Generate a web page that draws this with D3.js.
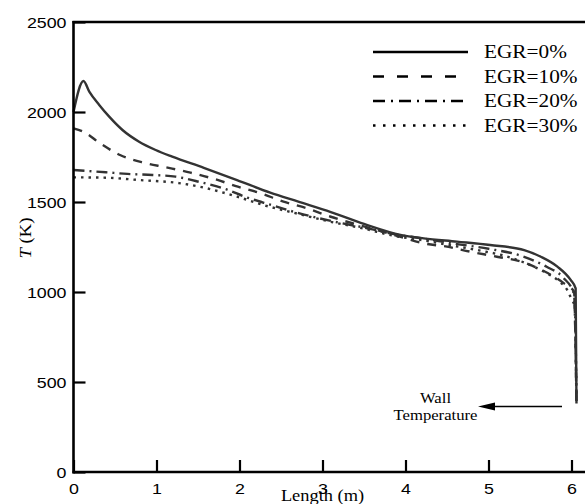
<!DOCTYPE html>
<html><head><meta charset="utf-8">
<script src="https://cdn.jsdelivr.net/npm/d3@7"></script>
<style>html,body{margin:0;padding:0;background:#fff;}svg{display:block;}</style>
</head><body>
<svg id="chart" width="585" height="504"></svg>
<script>
// ---- data ----
const seriesNames = ["EGR=0%", "EGR=10%", "EGR=20%", "EGR=30%"];
const lenEGR0  = [0, 0.12, 0.19, 0.31, 0.43, 0.59, 0.79, 0.99, 1.19, 1.57, 1.97, 2.37, 2.70, 3.10, 3.5, 3.94, 4.22, 4.62, 5.02, 5.43, 5.63, 5.83, 5.99, 6.05, 6.06];
const tEGR0    = [2000, 2172, 2113, 2039, 1974, 1900, 1835, 1789, 1752, 1690, 1622, 1552, 1503, 1444, 1378, 1317, 1298, 1280, 1261, 1233, 1196, 1141, 1067, 1020, 380];
const lenEGR10 = [0, 0.12, 0.32, 0.56, 0.85, 1.11, 1.41, 1.71, 1.98, 2.26, 2.53, 2.81, 3.10, 3.66, 3.94, 4.22, 4.5, 4.78, 5.1, 5.40, 5.55, 5.79, 5.91, 6.03, 6.06];
const tEGR10   = [1909, 1890, 1826, 1761, 1718, 1693, 1663, 1626, 1585, 1548, 1502, 1465, 1418, 1344, 1307, 1270, 1252, 1224, 1196, 1168, 1141, 1085, 1048, 1002, 380];
const lenEGR20 = [0, 0.39, 0.65, 0.95, 1.23, 1.53, 1.83, 2.09, 2.37, 2.70, 3.10, 3.5, 3.86, 4.2, 4.6, 5.0, 5.4, 5.7, 5.9, 6.03, 6.06];
const tEGR20   = [1678, 1665, 1656, 1650, 1641, 1610, 1572, 1525, 1485, 1440, 1395, 1358, 1322, 1298, 1268, 1240, 1200, 1140, 1080, 990, 380];
const lenEGR30 = [0, 0.39, 0.79, 1.27, 1.57, 1.97, 2.29, 2.70, 3.10, 3.5, 3.86, 4.2, 4.6, 4.9, 5.2, 5.5, 5.7, 5.85, 5.95, 6.0, 6.04, 6.06];
const tEGR30   = [1637, 1635, 1622, 1605, 1580, 1530, 1483, 1435, 1390, 1352, 1312, 1288, 1255, 1230, 1200, 1150, 1105, 1060, 1010, 960, 920, 380];
const xTicks = [0, 1, 2, 3, 4, 5, 6];
const yTicks = [0, 500, 1000, 1500, 2000, 2500];
const xTitle = "Length (m)";
const annotationLines = ["Wall", "Temperature"];

// ---- layout ----
const svg = d3.select("#chart");
const padL = 73.5, padT = 22, padB = 472;
const x = d3.scaleLinear().domain([0, 6.2]).range([padL, padL + 6.2 * 83]);
const y = d3.scaleLinear().domain([0, 2500]).range([padB, padT]);
const SX = 1.15;

const series = [
  {name: seriesNames[0], xs: lenEGR0,  ts: tEGR0,  dash: null},
  {name: seriesNames[1], xs: lenEGR10, ts: tEGR10, dash: "9,8"},
  {name: seriesNames[2], xs: lenEGR20, ts: tEGR20, dash: "11,5,2,5"},
  {name: seriesNames[3], xs: lenEGR30, ts: tEGR30, dash: "2.5,5"}
];

const line = d3.line().x(d => x(d[0])).y(d => y(d[1])).curve(d3.curveMonotoneX);

[3, 2, 1, 0].forEach(i => {
  const s = series[i];
  svg.append("path")
    .datum(s.xs.map((v, k) => [v, s.ts[k]]))
    .attr("fill", "none").attr("stroke", "#333")
    .attr("stroke-width", 2.4)
    .attr("stroke-dasharray", s.dash)
    .attr("d", line);
});

// axes
const axisColor = "#000";
const gx = svg.append("g").attr("transform", `translate(0,${padB})`)
  .call(d3.axisBottom(x).tickValues(xTicks).tickFormat(d3.format("d")).tickSizeInner(-12).tickSizeOuter(0));
gx.select(".domain").remove();
gx.selectAll(".tick line").attr("stroke", axisColor).attr("stroke-width", 2.2);
gx.selectAll(".tick text").attr("y", 0).attr("dy", 0)
  .attr("transform", `translate(0,22) scale(${SX},1)`)
  .attr("font-family", "Liberation Sans, Arial, sans-serif").attr("font-size", 15.5).attr("fill", "#000");

const gy = svg.append("g").attr("transform", `translate(${padL},0)`)
  .call(d3.axisLeft(y).tickValues(yTicks).tickFormat(d3.format("d")).tickSizeInner(-12).tickSizeOuter(0));
gy.select(".domain").remove();
gy.selectAll(".tick line").attr("stroke", axisColor).attr("stroke-width", 2.2);
gy.selectAll(".tick text").attr("x", 0).attr("dy", "0.36em")
  .attr("transform", `translate(-7,0) scale(${SX},1)`)
  .attr("font-family", "Liberation Sans, Arial, sans-serif").attr("font-size", 15.5).attr("fill", "#000");

// frame lines
svg.append("line").attr("x1", padL).attr("x2", padL).attr("y1", padT - 1).attr("y2", padB + 1.5)
  .attr("stroke", axisColor).attr("stroke-width", 2.6);
svg.append("line").attr("x1", padL - 1).attr("x2", 585).attr("y1", padT).attr("y2", padT)
  .attr("stroke", axisColor).attr("stroke-width", 2.6);
svg.append("line").attr("x1", padL - 1).attr("x2", 585).attr("y1", padB).attr("y2", padB)
  .attr("stroke", axisColor).attr("stroke-width", 2.6);

// axis titles
svg.append("text").attr("transform", `translate(${x(3)},501) scale(${SX},1)`)
  .attr("text-anchor", "middle").attr("font-family", "Liberation Serif, Times New Roman, serif")
  .attr("font-size", 16).text(xTitle);
const yt = svg.append("text").attr("transform", "translate(31,238) rotate(-90) scale(1.1,1)")
  .attr("text-anchor", "middle").attr("font-family", "Liberation Serif, Times New Roman, serif")
  .attr("font-size", 17);
yt.append("tspan").attr("font-style", "italic").text("T");
yt.append("tspan").text(" (K)");

// legend
const legY = [52, 76.5, 101, 125.5];
series.forEach((s, i) => {
  svg.append("line").attr("x1", 373).attr("x2", 468).attr("y1", legY[i]).attr("y2", legY[i])
    .attr("stroke", "#000").attr("stroke-width", 2.4)
    .attr("stroke-dasharray", i === 1 ? "11,13" : i === 2 ? "12,6,2,6" : i === 3 ? "2.5,7.5" : null);
  svg.append("text").attr("transform", `translate(484,${legY[i] + 6}) scale(${SX},1)`)
    .attr("font-family", "Liberation Serif, Times New Roman, serif").attr("font-size", 18.5)
    .attr("fill", "#000").text(s.name);
});

// wall temperature annotation
svg.append("text").attr("transform", `translate(435.5,403) scale(${SX},1)`)
  .attr("text-anchor", "middle").attr("font-family", "Liberation Serif, Times New Roman, serif")
  .attr("font-size", 14.5).text(annotationLines[0]);
svg.append("text").attr("transform", `translate(435.5,420) scale(${SX},1)`)
  .attr("text-anchor", "middle").attr("font-family", "Liberation Serif, Times New Roman, serif")
  .attr("font-size", 14.5).text(annotationLines[1]);
svg.append("line").attr("x1", 562).attr("x2", 490).attr("y1", 406.5).attr("y2", 406.5)
  .attr("stroke", "#000").attr("stroke-width", 1.3);
svg.append("path").attr("d", "M478,406.5 L495,402.5 L495,410.5 Z").attr("fill", "#000");
</script>
</body></html>
